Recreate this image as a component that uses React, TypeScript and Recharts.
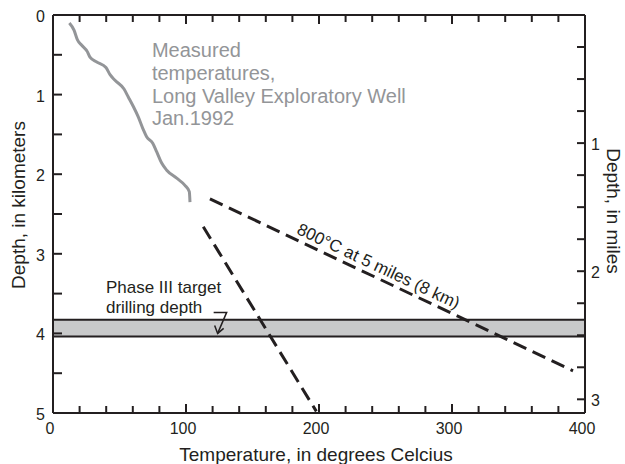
import React from "react";
import {
  ComposedChart,
  Line,
  XAxis,
  YAxis,
  ReferenceArea,
  ReferenceDot,
} from "recharts";

// measured temperature log (deg C, depth km)
const measuredTemp = [12.3, 15.8, 18.3, 21.6, 25.8, 27.8, 32.9, 39.8, 42.9, 46.6, 53.4, 56.6, 60.4, 64.1, 67.9, 70.4, 75, 78, 81.7, 85.5, 93, 99.2, 102.5, 103];
const measuredDepth = [0.1, 0.19, 0.31, 0.38, 0.46, 0.53, 0.59, 0.66, 0.75, 0.82, 0.93, 1.03, 1.15, 1.28, 1.44, 1.53, 1.61, 1.72, 1.86, 1.95, 2.05, 2.14, 2.22, 2.35];

// extrapolated gradients
const gradient800Temp = [118, 391];
const gradient800Depth = [2.31, 4.47];
const gradientSteepTemp = [113, 198];
const gradientSteepDepth = [2.66, 4.98];

// Phase III target band (km)
const targetTop = 3.83;
const targetBottom = 4.04;

const tempTicks = [0, 20, 40, 60, 80, 100, 120, 140, 160, 180, 200, 220, 240, 260, 280, 300, 320, 340, 360, 380, 400];
const kmTicks = [0, 0.5, 1, 1.5, 2, 2.5, 3, 3.5, 4, 4.5, 5];
const mileTicks = [0.25, 0.5, 0.75, 1, 1.25, 1.5, 1.75, 2, 2.25, 2.5, 2.75, 3];

const KM_PER_MILE = 1.609344;
const INK = "#231f20";
const GREY = "#939598";
const FONT = "'Liberation Sans', Arial, sans-serif";

const toPoints = (ts: number[], ds: number[]) => ts.map((t, i) => ({ t, d: ds[i] }));
const measured = toPoints(measuredTemp, measuredDepth);
const line800 = toPoints(gradient800Temp, gradient800Depth);
const lineSteep = toPoints(gradientSteepTemp, gradientSteepDepth);

const BottomTick = (p: any) => {
  const major = p.payload.value % 100 === 0;
  return (
    <g>
      <line x1={p.x} x2={p.x} y1={p.y} y2={p.y - (major ? 9 : 7)} stroke={INK} strokeWidth={2} />
      {major && (
        <text x={p.x - 3} y={p.y + 21} textAnchor="middle" fontSize={16} fill={INK} fontFamily={FONT}>
          {p.payload.value}
        </text>
      )}
    </g>
  );
};

const TopTick = (p: any) => {
  const major = p.payload.value % 100 === 0;
  return <line x1={p.x} x2={p.x} y1={p.y} y2={p.y + (major ? 9 : 7)} stroke={INK} strokeWidth={2} />;
};

const KmTick = (p: any) => {
  const v = p.payload.value;
  return (
    <g>
      <line x1={p.x} x2={p.x + 9} y1={p.y} y2={p.y} stroke={INK} strokeWidth={2} />
      {Number.isInteger(v) && (
        <text x={p.x - 8} y={p.y + 7} textAnchor="end" fontSize={16} fill={INK} fontFamily={FONT}>
          {v}
        </text>
      )}
    </g>
  );
};

const MileTick = (p: any) => {
  const v = p.payload.value;
  return (
    <g>
      <line x1={p.x} x2={p.x - 8} y1={p.y} y2={p.y} stroke={INK} strokeWidth={2} />
      {Number.isInteger(v) && (
        <text x={p.x + 6} y={p.y + 7} textAnchor="start" fontSize={16} fill={INK} fontFamily={FONT}>
          {v}
        </text>
      )}
    </g>
  );
};

const measuredNote = ["Measured", "temperatures,", "Long Valley Exploratory Well", "Jan.1992"];
const targetNote = ["Phase III target", "drilling depth"];

const TextLines = (lines: string[], size: number, gap: number, color: string) => (p: any) => (
  <text x={p.cx} y={p.cy} fontSize={size} fill={color} fontFamily={FONT}>
    {lines.map((l, i) => (
      <tspan key={i} x={p.cx} dy={i === 0 ? 0 : gap}>
        {l}
      </tspan>
    ))}
  </text>
);

const Arrow = (p: any) => (
  <g stroke={INK} strokeWidth={1.5} fill="none">
    <path d={`M${p.cx - 4} ${p.cy - 21} H${p.cx + 9} L${p.cx} ${p.cy}`} />
    <path d={`M${p.cx - 3} ${p.cy - 8} L${p.cx} ${p.cy} L${p.cx + 6} ${p.cy - 5}`} />
  </g>
);

const SlopeLabel = (p: any) => (
  <text
    x={p.cx}
    y={p.cy}
    textAnchor="middle"
    fontSize={17}
    fill={INK}
    fontFamily={FONT}
    transform={`rotate(25.3 ${p.cx} ${p.cy})`}
  >
    800°C at 5 miles (8 km)
  </text>
);

export default function App() {
  return (
    <div style={{ position: "absolute", left: 0, top: 0, background: "#fff" }}>
      <ComposedChart width={625} height={464} margin={{ top: 0, right: 0, bottom: 0, left: 0 }}>
        <XAxis
          xAxisId="bottom"
          orientation="bottom"
          type="number"
          dataKey="t"
          domain={[0, 400]}
          allowDataOverflow
          ticks={tempTicks}
          interval={0}
          height={51}
          tickSize={0}
          tickMargin={0}
          tickLine={false}
          tick={BottomTick}
          axisLine={{ stroke: INK, strokeWidth: 2 }}
          label={{
            value: "Temperature, in degrees Celcius",
            position: "insideBottom",
            offset: 3,
            dx: -3,
            style: { fontSize: 19, fill: INK, fontFamily: FONT },
          }}
        />
        <XAxis
          xAxisId="top"
          orientation="top"
          type="number"
          dataKey="t"
          domain={[0, 400]}
          allowDataOverflow
          ticks={tempTicks}
          interval={0}
          height={15}
          tickSize={0}
          tickMargin={0}
          tickLine={false}
          tick={TopTick}
          axisLine={{ stroke: INK, strokeWidth: 2 }}
        />
        <YAxis
          yAxisId="km"
          orientation="left"
          type="number"
          dataKey="d"
          domain={[0, 5]}
          reversed
          allowDataOverflow
          ticks={kmTicks}
          interval={0}
          width={53}
          tickSize={0}
          tickMargin={0}
          tickLine={false}
          tick={KmTick}
          axisLine={{ stroke: INK, strokeWidth: 2 }}
          label={{
            value: "Depth, in kilometers",
            angle: -90,
            position: "insideLeft",
            offset: 18,
            dy: -9,
            style: { fontSize: 19, fill: INK, fontFamily: FONT, textAnchor: "middle" },
          }}
        />
        <YAxis
          yAxisId="mi"
          orientation="right"
          type="number"
          domain={[0, 5 / KM_PER_MILE]}
          reversed
          allowDataOverflow
          ticks={mileTicks}
          interval={0}
          width={40}
          tickSize={0}
          tickMargin={0}
          tickLine={false}
          tick={MileTick}
          axisLine={{ stroke: INK, strokeWidth: 2 }}
          label={{
            value: "Depth, in miles",
            angle: 90,
            position: "insideRight",
            offset: 11,
            dy: -3,
            style: { fontSize: 19, fill: INK, fontFamily: FONT, textAnchor: "middle" },
          }}
        />

        <ReferenceArea
          xAxisId="bottom"
          yAxisId="km"
          x1={0}
          x2={400}
          y1={targetTop}
          y2={targetBottom}
          fill="#c8c9ca"
          fillOpacity={1}
          stroke={INK}
          strokeWidth={2}
        />

        <Line
          xAxisId="bottom"
          yAxisId="km"
          data={measured}
          dataKey="d"
          type="monotone"
          stroke={GREY}
          strokeWidth={3}
          dot={false}
          isAnimationActive={false}
        />
        <Line
          xAxisId="bottom"
          yAxisId="km"
          data={line800}
          dataKey="d"
          type="linear"
          stroke={INK}
          strokeWidth={3}
          strokeDasharray="14 7"
          dot={false}
          isAnimationActive={false}
        />
        <Line
          xAxisId="bottom"
          yAxisId="km"
          data={lineSteep}
          dataKey="d"
          type="linear"
          stroke={INK}
          strokeWidth={3}
          strokeDasharray="14 7"
          dot={false}
          isAnimationActive={false}
        />

        <ReferenceDot xAxisId="bottom" yAxisId="km" x={74.4} y={0.53} r={0} ifOverflow="visible" shape={TextLines(measuredNote, 20, 22.7, GREY)} />
        <ReferenceDot xAxisId="bottom" yAxisId="km" x={39.8} y={3.49} r={0} ifOverflow="visible" shape={TextLines(targetNote, 17, 20, INK)} />
        <ReferenceDot xAxisId="bottom" yAxisId="km" x={123.8} y={4.0} r={0} ifOverflow="visible" shape={Arrow} />
        <ReferenceDot xAxisId="bottom" yAxisId="km" x={242.9} y={3.22} r={0} ifOverflow="visible" shape={SlopeLabel} />
      </ComposedChart>
    </div>
  );
}
